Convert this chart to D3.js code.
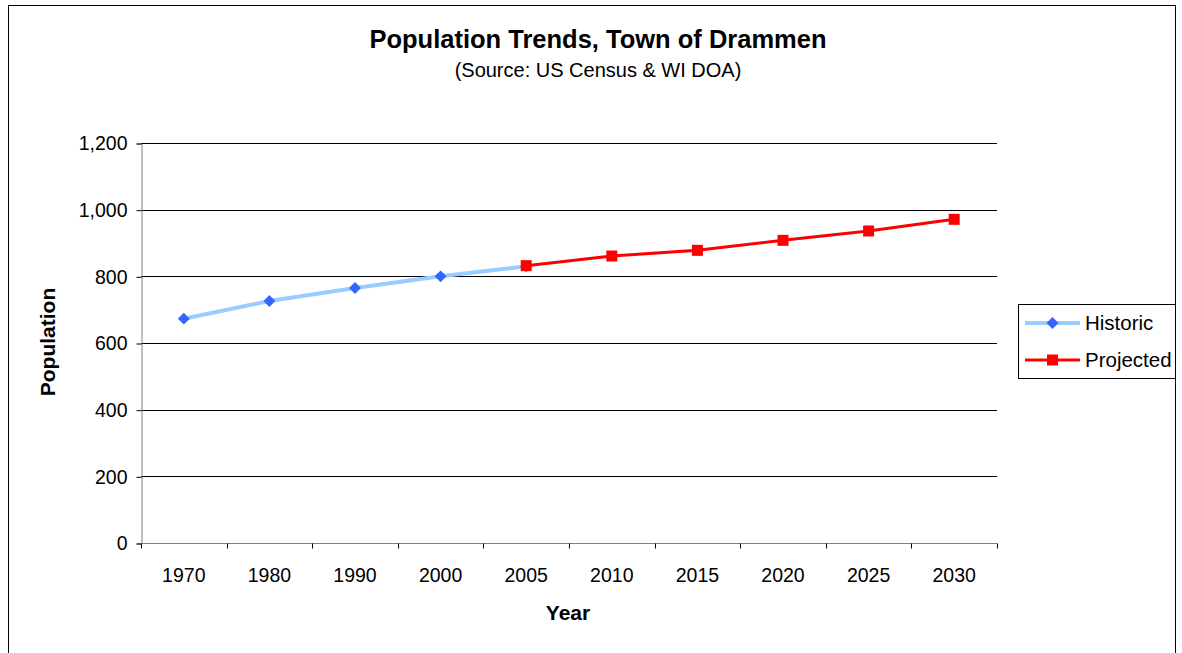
<!DOCTYPE html>
<html><head><meta charset="utf-8">
<script src="https://cdn.jsdelivr.net/npm/d3@7"></script>
<style>body{margin:0;background:#fff}svg{display:block;font-family:"Liberation Sans",Arial,sans-serif}</style>
</head><body><svg id="c" width="1182" height="653"></svg>
<script>
const categories = ["1970","1980","1990","2000","2005","2010","2015","2020","2025","2030"];
const historicYears = ["1970","1980","1990","2000","2005"];
const historicValues = [673, 726, 765, 800, 830];
const projectedYears = ["2005","2010","2015","2020","2025","2030"];
const projectedValues = [832, 861, 878, 908, 936, 971];
const yTicks = [0, 200, 400, 600, 800, 1000, 1200];

const svg = d3.select("#c");
const L = 141, R = 997, T = 143, B = 543;
svg.append("rect").attr("x", 8.5).attr("y", 5.5).attr("width", 1167).attr("height", 660)
  .attr("fill", "#fff").attr("stroke", "#000");

const x = d3.scaleBand().domain(categories).range([L, R]);
const y = d3.scaleLinear().domain([0, 1200]).range([B, T]);

// gridlines
svg.append("g").selectAll("line").data(yTicks.filter(d => d > 0)).join("line")
  .attr("x1", L).attr("x2", R).attr("y1", d => Math.round(y(d)) + 0.5).attr("y2", d => Math.round(y(d)) + 0.5)
  .attr("stroke", "#000").attr("stroke-width", 1);

// y axis
const ya = svg.append("g").attr("transform", `translate(${L + 0.5},0.5)`)
  .call(d3.axisLeft(y).tickValues(yTicks).tickSize(5).tickPadding(9).tickFormat(d3.format(",")));
ya.attr("font-size", null).attr("font-family", null);
ya.select(".domain").attr("stroke", "#808080");
ya.selectAll(".tick line").attr("stroke", "#000");
ya.selectAll("text").attr("font-size", 19.5).attr("fill", "#000");

// x axis
const xa = svg.append("g").attr("transform", `translate(0,${B + 0.5})`);
xa.append("line").attr("x1", L).attr("x2", R).attr("stroke", "#808080");
const bounds = categories.map((c, i) => x(c)).concat([R]);
xa.selectAll("line.tk").data(bounds).join("line").attr("class", "tk")
  .attr("x1", d => Math.round(d) + 0.5).attr("x2", d => Math.round(d) + 0.5).attr("y1", 0).attr("y2", 5).attr("stroke", "#000");
xa.selectAll("text").data(categories).join("text")
  .attr("x", d => x(d) + x.bandwidth() / 2).attr("y", 38).attr("text-anchor", "middle")
  .attr("font-size", 19.5).text(d => d);

const cx = d => x(d) + x.bandwidth() / 2;
const line = d3.line().x(d => cx(d[0])).y(d => y(d[1]));
const hist = historicYears.map((c, i) => [c, historicValues[i]]);
const proj = projectedYears.map((c, i) => [c, projectedValues[i]]);

svg.append("path").datum(hist).attr("d", line).attr("fill", "none").attr("stroke", "#99CCFF").attr("stroke-width", 4);
svg.append("g").selectAll("path").data(hist).join("path")
  .attr("d", d3.symbol().type(d3.symbolDiamond2).size(90))
  .attr("transform", d => `translate(${cx(d[0])},${y(d[1])})`).attr("fill", "#3366FF");

svg.append("path").datum(proj).attr("d", line).attr("fill", "none").attr("stroke", "#FF0000").attr("stroke-width", 3);
svg.append("g").selectAll("rect").data(proj).join("rect")
  .attr("x", d => cx(d[0]) - 5.5).attr("y", d => y(d[1]) - 5.5).attr("width", 11).attr("height", 11).attr("fill", "#FF0000");

// titles
svg.append("text").attr("x", 598).attr("y", 48).attr("text-anchor", "middle").attr("font-size", 25.5).attr("font-weight", "bold").text("Population Trends, Town of Drammen");
svg.append("text").attr("x", 598).attr("y", 77).attr("text-anchor", "middle").attr("font-size", 20).text("(Source: US Census & WI DOA)");
svg.append("text").attr("x", 568).attr("y", 620).attr("text-anchor", "middle").attr("font-size", 21).attr("font-weight", "bold").text("Year");
svg.append("text").attr("transform", "translate(55,342) rotate(-90)").attr("text-anchor", "middle").attr("font-size", 21).attr("font-weight", "bold").text("Population");

// legend
const lg = svg.append("g");
lg.append("rect").attr("x", 1018.5).attr("y", 304.5).attr("width", 157).attr("height", 74).attr("fill", "#fff").attr("stroke", "#000");
const items = [
  {name: "Historic", color: "#99CCFF", w: 4, mark: "#3366FF", sym: d3.symbolDiamond2, y: 323},
  {name: "Projected", color: "#FF0000", w: 3, mark: "#FF0000", sym: d3.symbolSquare, y: 360}
];
items.forEach(it => {
  lg.append("line").attr("x1", 1025).attr("x2", 1080).attr("y1", it.y).attr("y2", it.y).attr("stroke", it.color).attr("stroke-width", it.w);
  if (it.sym === d3.symbolSquare) {
    lg.append("rect").attr("x", 1052.5 - 5.5).attr("y", it.y - 5.5).attr("width", 11).attr("height", 11).attr("fill", it.mark);
  } else {
    lg.append("path").attr("d", d3.symbol().type(it.sym).size(90)).attr("transform", `translate(1052.5,${it.y})`).attr("fill", it.mark);
  }
  lg.append("text").attr("x", 1085).attr("y", it.y + 7).attr("font-size", 20.5).text(it.name);
});
</script></body></html>
